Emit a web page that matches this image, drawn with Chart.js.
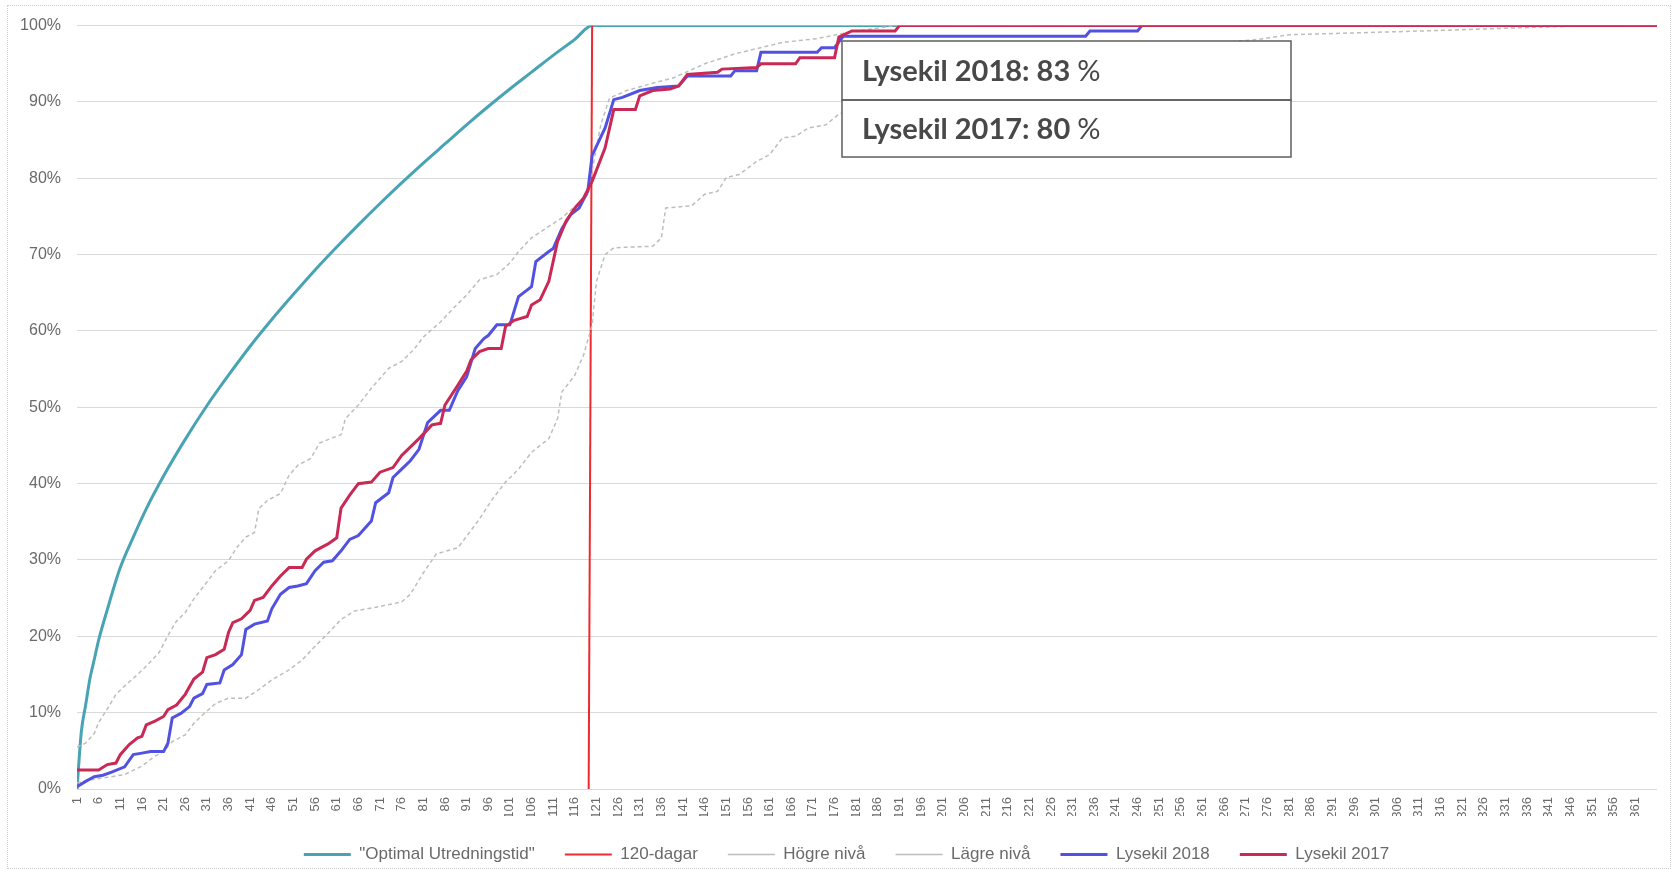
<!DOCTYPE html>
<html><head><meta charset="utf-8">
<script src="https://cdn.jsdelivr.net/npm/chart.js@4.4.1/dist/chart.umd.min.js"></script>
<style>
html,body{margin:0;padding:0;background:#fff;}
#wrap{position:relative;width:1680px;height:873px;overflow:hidden;}
#frame{position:absolute;left:7px;top:5px;width:1664px;height:864px;border:1px dotted #cdcdcd;box-sizing:border-box;pointer-events:none;}
canvas{position:absolute;left:0;top:0;}
</style></head>
<body><div id="wrap"><canvas id="c" width="1680" height="873"></canvas><div id="frame"></div></div>
<script>
// ---- Data ----
const xTickLabels = [1,6,11,16,21,26,31,36,41,46,51,56,61,66,71,76,81,86,91,96,101,106,111,116,121,126,131,136,141,146,151,156,161,166,171,176,181,186,191,196,201,206,211,216,221,226,231,236,241,246,251,256,261,266,271,276,281,286,291,296,301,306,311,316,321,326,331,336,341,346,351,356,361];
const yTickLabels = [0,10,20,30,40,50,60,70,80,90,100];

const optimalDays = [1,2,3,4,5,6,8,11,14,17,21,26,31,36,41,46,51,56,61,66,71,76,81,86,91,96,101,106,111,116,120,366];
const optimalPct  = [0,7.5,11,14.5,17,19.5,23.5,29,33,36.7,41,45.8,50.2,54.2,58,61.5,64.8,68,71,73.9,76.7,79.4,82,84.5,87,89.4,91.7,93.9,96.1,98.2,100,100];

const dagarDays = [119.2,120];
const dagarPct  = [0,100];

const hogreDays = [1,3,5,6,8,10,12,15,17,20,22,24,26,28,31,33,36,38,40,42,43,45,48,50,52,55,57,60,62,63,66,69,73,76,79,81,85,88,91,94,98,101,103,106,110,113,116,119,120,122,124,128,133,139,146,153,164,172,180,190,366];
const hogrePct  = [5.5,6.0,7.3,8.7,10.5,12.4,13.5,15.0,16.1,17.9,20.1,22.0,23.1,24.9,27.1,28.6,29.9,31.7,33.0,33.6,36.7,37.8,38.7,41.1,42.4,43.3,45.3,46.0,46.4,48.5,50.3,52.5,55.1,56.0,57.7,59.2,61.2,63.0,64.7,66.7,67.4,68.9,70.4,72.2,73.7,74.8,76.3,77.9,81,87,90.5,91.5,92.3,93.2,95.0,96.3,97.8,98.3,99.2,100,100];

const lagreDays = [1,4,10,12,16,19,21,23,26,28,30,33,36,40,43,46,50,53,56,59,62,65,70,76,78,81,84,89,91,94,97,100,103,106,110,112,113,116,118,120,121,123,125,134,136,137,143,146,149,151,154,158,161,164,167,170,174,177,190,210,230,255,274,281,312,350,366];
const lagrePct  = [0.8,1.2,1.7,1.9,3.0,4.3,4.9,6.2,7.1,8.6,9.7,11.2,11.9,11.9,13.0,14.3,15.6,16.9,18.7,20.4,22.2,23.3,23.8,24.5,25.5,28.3,30.8,31.6,33.1,35.4,38.0,40.2,41.9,44.1,45.9,48.5,52.0,54.2,56.8,60.8,66.5,70.0,70.9,71.1,72.2,76.1,76.4,77.9,78.3,80.1,80.5,82.2,83.1,85.3,85.5,86.6,87.0,88.4,91,94,96,97.3,98.2,98.8,99.3,100,100];

const ly2018Days = [1,3,5,7,9,12,14,16,18,21,22,23,25,27,28,30,31,34,35,37,39,40,42,45,46,48,50,52,54,56,58,60,62,64,66,69,70,73,74,76,78,80,82,85,87,89,91,93,95,96,98,101,103,106,107,110,111,113,115,117,119,120,123,125,127,131,135,140,142,152,153,158,159,172,173,176,178,234,235,246,247,366];
const ly2018Pct  = [0.3,1.0,1.6,1.8,2.2,2.9,4.5,4.7,4.9,4.9,6.0,9.3,9.9,10.8,11.9,12.5,13.7,13.9,15.6,16.3,17.6,20.9,21.6,22.0,23.6,25.5,26.4,26.6,26.9,28.6,29.7,29.9,31.2,32.7,33.2,35.1,37.5,38.8,40.8,41.9,43.0,44.5,48.0,49.6,49.6,52.2,54.0,57.7,59.0,59.4,60.8,60.8,64.5,65.8,69.1,70.4,70.8,73.4,75.2,76.1,78.3,83.0,86.6,90.3,90.6,91.5,91.9,92.1,93.4,93.4,94.1,94.1,96.5,96.5,97.1,97.1,98.6,98.6,99.3,99.3,100,100];

const ly2017Days = [1,6,8,10,11,13,15,16,17,19,21,22,24,26,28,30,31,33,35,36,37,39,41,42,44,46,48,50,53,54,56,59,61,62,64,66,69,71,74,76,80,83,85,86,89,91,92,94,96,99,100,102,105,106,108,110,112,114,116,118,120,123,125,130,131,134,138,140,142,149,150,158,159,167,168,176,177,180,190,191,366];
const ly2017Pct  = [2.5,2.5,3.2,3.4,4.5,5.8,6.7,6.9,8.4,8.9,9.5,10.4,11.0,12.4,14.4,15.3,17.2,17.6,18.3,20.5,21.8,22.3,23.4,24.7,25.1,26.6,27.9,29.0,29.0,30.1,31.2,32.1,32.9,36.8,38.5,40.0,40.2,41.5,42.1,43.7,45.9,47.7,47.9,50.3,52.9,54.7,56.2,57.3,57.7,57.7,60.6,61.4,61.9,63.4,64.1,66.5,71.7,74.4,76.1,77.4,79.6,84.0,89.0,89.0,90.8,91.5,91.7,92.1,93.6,93.9,94.3,94.5,95.0,95.0,95.8,95.8,98.5,99.3,99.3,100,100];

const seriesNames = ['"Optimal Utredningstid"','120-dagar','Högre nivå','Lägre nivå','Lysekil 2018','Lysekil 2017'];
const boxLines = [{label:'Lysekil 2018', value:83},{label:'Lysekil 2017', value:80}];

// ---- Build ----
const pts = (d,p) => d.map((x,i)=>({x:x, y:p[i]}));
function ds(i, days, pct, color, width, extra){
  return Object.assign({
    label: seriesNames[i], data: pts(days,pct),
    borderColor: color, backgroundColor: color, borderWidth: width,
    pointRadius: 0, pointHoverRadius: 0, tension: 0, fill: false,
    order: 6 - i
  }, extra || {});
}
const datasets = [
  ds(0, optimalDays, optimalPct, '#48A3B4', 3, {cubicInterpolationMode:'monotone'}),
  ds(1, dagarDays, dagarPct, '#EE2A2E', 2),
  ds(2, hogreDays, hogrePct, '#BDBDBD', 1.5, {borderDash:[4,3]}),
  ds(3, lagreDays, lagrePct, '#BDBDBD', 1.5, {borderDash:[4,3]}),
  ds(4, ly2018Days, ly2018Pct, '#5252E2', 3),
  ds(5, ly2017Days, ly2017Pct, '#C92A55', 3)
];

const boxPlugin = {
  id: 'lysekilBox',
  afterDraw(chart){
    const ctx = chart.ctx;
    const x = 842, y = 41, w = 449, h1 = 59, h2 = 57;
    ctx.save();
    ctx.fillStyle = '#ffffff';
    ctx.fillRect(x, y, w, h1 + h2);
    ctx.strokeStyle = '#5e5e5e';
    ctx.lineWidth = 1.5;
    ctx.strokeRect(x, y, w, h1);
    ctx.strokeRect(x, y + h1, w, h2);
    ctx.textBaseline = 'middle';
    ctx.fillStyle = '#484848';
    boxLines.forEach((b, i) => {
      const cy = (i === 0 ? y + h1/2 : y + h1 + h2/2) + 1;
      const boldText = b.label + ': ' + b.value + ' ';
      ctx.font = 'bold 29px Lato';
      ctx.fillText(boldText, x + 20, cy);
      const bw = ctx.measureText(boldText).width;
      ctx.font = '29px Lato';
      ctx.fillText('%', x + 20 + bw, cy);
    });
    ctx.restore();
  }
};

new Chart(document.getElementById('c'), {
  type: 'line',
  data: { datasets },
  plugins: [boxPlugin],
  options: {
    responsive: false,
    animation: false,
    devicePixelRatio: 1,
    events: [],
    layout: { padding: { left: 36, top: 25, right: 23, bottom: 0 } },
    scales: {
      x: {
        type: 'linear', min: 1, max: 366,
        grid: { display: false, drawTicks: false },
        border: { display: false },
        afterBuildTicks: (s) => { s.ticks = xTickLabels.map(v => ({ value: v })); },
        afterFit: (s) => { s.height = 27; },
        ticks: {
          autoSkip: false, maxRotation: 90, minRotation: 90, padding: 8,
          color: '#6a6a6a', font: { family: 'Liberation Sans', size: 13 },
          callback: (v) => String(v)
        }
      },
      y: {
        min: 0, max: 100,
        afterBuildTicks: (s) => { s.ticks = yTickLabels.map(v => ({ value: v })); },
        afterFit: (s) => { s.width = 41; s._computeLabelArea = () => undefined; },
        grid: { color: '#d9d9d9', lineWidth: 1, drawTicks: false },
        border: { display: false },
        ticks: {
          padding: 16, color: '#6a6a6a', font: { family: 'Liberation Sans', size: 16 },
          callback: (v) => v + '%'
        }
      }
    },
    plugins: {
      tooltip: { enabled: false },
      legend: {
        position: 'bottom',
        labels: {
          usePointStyle: true, pointStyle: 'line', pointStyleWidth: 47,
          padding: 30, color: '#6a6a6a',
          font: { family: 'Liberation Sans', size: 17 },
          sort: (a, b) => a.datasetIndex - b.datasetIndex
        }
      }
    }
  }
});
</script>
</body></html>
